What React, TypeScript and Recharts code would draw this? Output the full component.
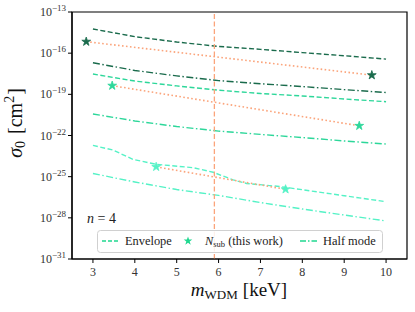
import React from 'react';
import { ComposedChart, Line, Scatter, XAxis, YAxis, ZAxis, ReferenceLine, ReferenceArea } from 'recharts';

// ---- data ----
const massGrid = [3, 4, 5, 6, 7, 8, 9, 10];
const envelopeDark = [5.8e-15, 1.6e-15, 6.5e-16, 3.1e-16, 1.9e-16, 1.1e-16, 6.5e-17, 3.7e-17];
const halfModeDark = [2.0e-17, 5.5e-18, 2.2e-18, 1.0e-18, 5.9e-19, 3.7e-19, 2.2e-19, 1.35e-19];
const envelopeMid = [3.0e-18, 9.3e-19, 4.1e-19, 2.0e-19, 1.15e-19, 7.6e-20, 4.6e-20, 2.9e-20];
const halfModeMid = [3.7e-21, 1.15e-21, 4.5e-22, 2.1e-22, 1.2e-22, 7.1e-23, 4.0e-23, 2.4e-23];
const envelopeLightMass = [3.0, 3.48, 3.96, 4.52, 5.4, 5.87, 6.35, 6.67, 7.47, 9.0, 10.0];
const envelopeLight = [1.9e-23, 8.7e-24, 1.8e-24, 7.9e-25, 4.5e-25, 2.1e-25, 5.8e-26, 3.2e-26, 1.9e-26, 4.1e-27, 1.5e-27];
const halfModeLight = [1.7e-25, 4.1e-26, 1.15e-26, 4.3e-27, 1.3e-27, 4.4e-28, 1.6e-28, 5.9e-29];

const nsubDarkMass = [2.84, 9.66];
const nsubDark = [6.9e-16, 2.5e-18];
const nsubMidMass = [3.46, 9.36];
const nsubMid = [4.3e-19, 5.1e-22];
const nsubLightMass = [4.51, 7.6];
const nsubLight = [5.2e-25, 1.2e-26];

const wdmLimit = 5.9;
const xTicks = [3, 4, 5, 6, 7, 8, 9, 10];
const yTicks = [1e-31, 1e-28, 1e-25, 1e-22, 1e-19, 1e-16, 1e-13];
const yTickExponents = ['−31', '−28', '−25', '−22', '−19', '−16', '−13'];

const toPoints = (xs: number[], ys: number[]) => xs.map((m, i) => ({ m, s: ys[i] }));

// ---- styles ----
const DARK = '#1a6b4c';
const MID = '#2dd79a';
const LIGHT = '#55f2c6';
const ORANGE = '#fba47b';
const LEG = '#20d890';
const FONT = '"Liberation Serif", "Times New Roman", serif';
const ENV_DASH = '5 2.5';
const HALF_DASH = '7 2.5 1.5 2.5';
const DOT_DASH = '1.6 2.4';

const YTick = (props: any) => {
  const { x, y, payload, index } = props;
  const idx = yTicks.indexOf(payload.value);
  const exp = yTickExponents[idx >= 0 ? idx : index];
  return (
    <text x={x} y={y + 4} textAnchor="end" fontFamily={FONT} fontSize={12} fill="#333">
      10<tspan dy={-5} fontSize={9}>{exp}</tspan>
    </text>
  );
};

const XTick = (props: any) => {
  const { x, y, payload } = props;
  return (
    <text x={x} y={y + 11} textAnchor="middle" fontFamily={FONT} fontSize={12} fill="#333">
      {payload.value}
    </text>
  );
};

export default function App() {
  return (
    <div style={{ position: 'absolute', left: 0, top: 0, width: 415, height: 312, background: '#fff' }}>
      <ComposedChart width={415} height={312} margin={{ top: 12, right: 8, bottom: 23, left: 12 }}>
        <XAxis
          dataKey="m"
          type="number"
          domain={[2.5, 10.5]}
          ticks={xTicks}
          height={30}
          allowDataOverflow
          axisLine={{ stroke: '#000', strokeWidth: 1.2 }}
          tickLine={{ stroke: '#000' }}
          tickSize={4}
          tickMargin={2}
          tick={<XTick />}
        />
        <YAxis
          dataKey="s"
          type="number"
          scale="log"
          domain={[1e-31, 1e-13]}
          ticks={yTicks}
          width={60}
          allowDataOverflow
          axisLine={{ stroke: '#000', strokeWidth: 1.2 }}
          tickLine={{ stroke: '#000' }}
          tickSize={4}
          tickMargin={2}
          tick={<YTick />}
        />
        <ZAxis type="number" range={[24, 24]} />
        <ReferenceArea x1={2.5} x2={10.5} y1={1e-31} y2={1e-13} fill="none" stroke="#000" strokeWidth={1.2} ifOverflow="visible" />

        <Line data={toPoints(massGrid, envelopeDark)} dataKey="s" stroke={DARK} strokeWidth={1.4} strokeDasharray={ENV_DASH} dot={false} isAnimationActive={false} />
        <Line data={toPoints(massGrid, halfModeDark)} dataKey="s" stroke={DARK} strokeWidth={1.4} strokeDasharray={HALF_DASH} dot={false} isAnimationActive={false} />
        <Line data={toPoints(massGrid, envelopeMid)} dataKey="s" stroke={MID} strokeWidth={1.4} strokeDasharray={ENV_DASH} dot={false} isAnimationActive={false} />
        <Line data={toPoints(massGrid, halfModeMid)} dataKey="s" stroke={MID} strokeWidth={1.4} strokeDasharray={HALF_DASH} dot={false} isAnimationActive={false} />
        <Line data={toPoints(envelopeLightMass, envelopeLight)} dataKey="s" stroke={LIGHT} strokeWidth={1.4} strokeDasharray={ENV_DASH} dot={false} isAnimationActive={false} />
        <Line data={toPoints(massGrid, halfModeLight)} dataKey="s" stroke={LIGHT} strokeWidth={1.4} strokeDasharray={HALF_DASH} dot={false} isAnimationActive={false} />

        <Line data={toPoints(nsubDarkMass, nsubDark)} dataKey="s" stroke={ORANGE} strokeWidth={1.6} strokeDasharray={DOT_DASH} dot={false} isAnimationActive={false} />
        <Line data={toPoints(nsubMidMass, nsubMid)} dataKey="s" stroke={ORANGE} strokeWidth={1.6} strokeDasharray={DOT_DASH} dot={false} isAnimationActive={false} />
        <Line data={toPoints(nsubLightMass, nsubLight)} dataKey="s" stroke={ORANGE} strokeWidth={1.6} strokeDasharray={DOT_DASH} dot={false} isAnimationActive={false} />

        <ReferenceLine x={wdmLimit} stroke={ORANGE} strokeWidth={1.3} strokeDasharray="5 2.5" />

        <Scatter data={toPoints(nsubDarkMass, nsubDark)} dataKey="s" shape="star" fill={DARK} stroke={DARK} strokeWidth={0.8} isAnimationActive={false} />
        <Scatter data={toPoints(nsubMidMass, nsubMid)} dataKey="s" shape="star" fill={MID} stroke={MID} strokeWidth={0.8} isAnimationActive={false} />
        <Scatter data={toPoints(nsubLightMass, nsubLight)} dataKey="s" shape="star" fill={LIGHT} stroke={LIGHT} strokeWidth={0.8} isAnimationActive={false} />
      </ComposedChart>

      <svg width={415} height={312} style={{ position: 'absolute', left: 0, top: 0, pointerEvents: 'none' }}>
        {/* axis labels */}
        <text x={239} y={296} textAnchor="middle" fontFamily={FONT} fontSize={19} fill="#111">
          <tspan fontStyle="italic">m</tspan>
          <tspan fontSize={13} dy={3}>WDM</tspan>
          <tspan dy={-3} dx={5}>[keV]</tspan>
        </text>
        <text x={22} y={123} textAnchor="middle" fontFamily={FONT} fontSize={20} fill="#111" transform="rotate(-90, 22, 123)">
          <tspan fontStyle="italic">σ</tspan>
          <tspan fontSize={14} dy={3}>0</tspan>
          <tspan dy={-3} dx={7}>[cm</tspan>
          <tspan fontSize={14} dy={-8}>2</tspan>
          <tspan dy={8} dx={1}>]</tspan>
        </text>

        {/* n = 4 */}
        <text x={87} y={223} fontFamily={FONT} fontSize={14} fill="#222">
          <tspan fontStyle="italic">n</tspan> = 4
        </text>

        {/* legend */}
        <rect x={97.5} y={230.5} width={285} height={22} rx={3} fill="#fff" fillOpacity={0.85} stroke="#d0d0d0" />
        <line x1={102} y1={241} x2={118} y2={241} stroke={LEG} strokeWidth={1.4} strokeDasharray="4 2" />
        <text x={125} y={245} fontFamily={FONT} fontSize={12.4} fill="#222">Envelope</text>
        <path d="M188,236.5 L189.1,239.6 L192.3,239.6 L189.7,241.6 L190.7,244.7 L188,242.8 L185.3,244.7 L186.3,241.6 L183.7,239.6 L186.9,239.6 Z" fill={LEG} />
        <text x={205} y={245} fontFamily={FONT} fontSize={12.4} fill="#222">
          <tspan fontStyle="italic">N</tspan>
          <tspan fontSize={8.5} dy={2}>sub</tspan>
          <tspan dy={-2}> (this work)</tspan>
        </text>
        <line x1={300} y1={241} x2={317} y2={241} stroke={LEG} strokeWidth={1.4} strokeDasharray="6 2 1.5 2" />
        <text x={323} y={245} fontFamily={FONT} fontSize={12.4} fill="#222">Half mode</text>
      </svg>
    </div>
  );
}
